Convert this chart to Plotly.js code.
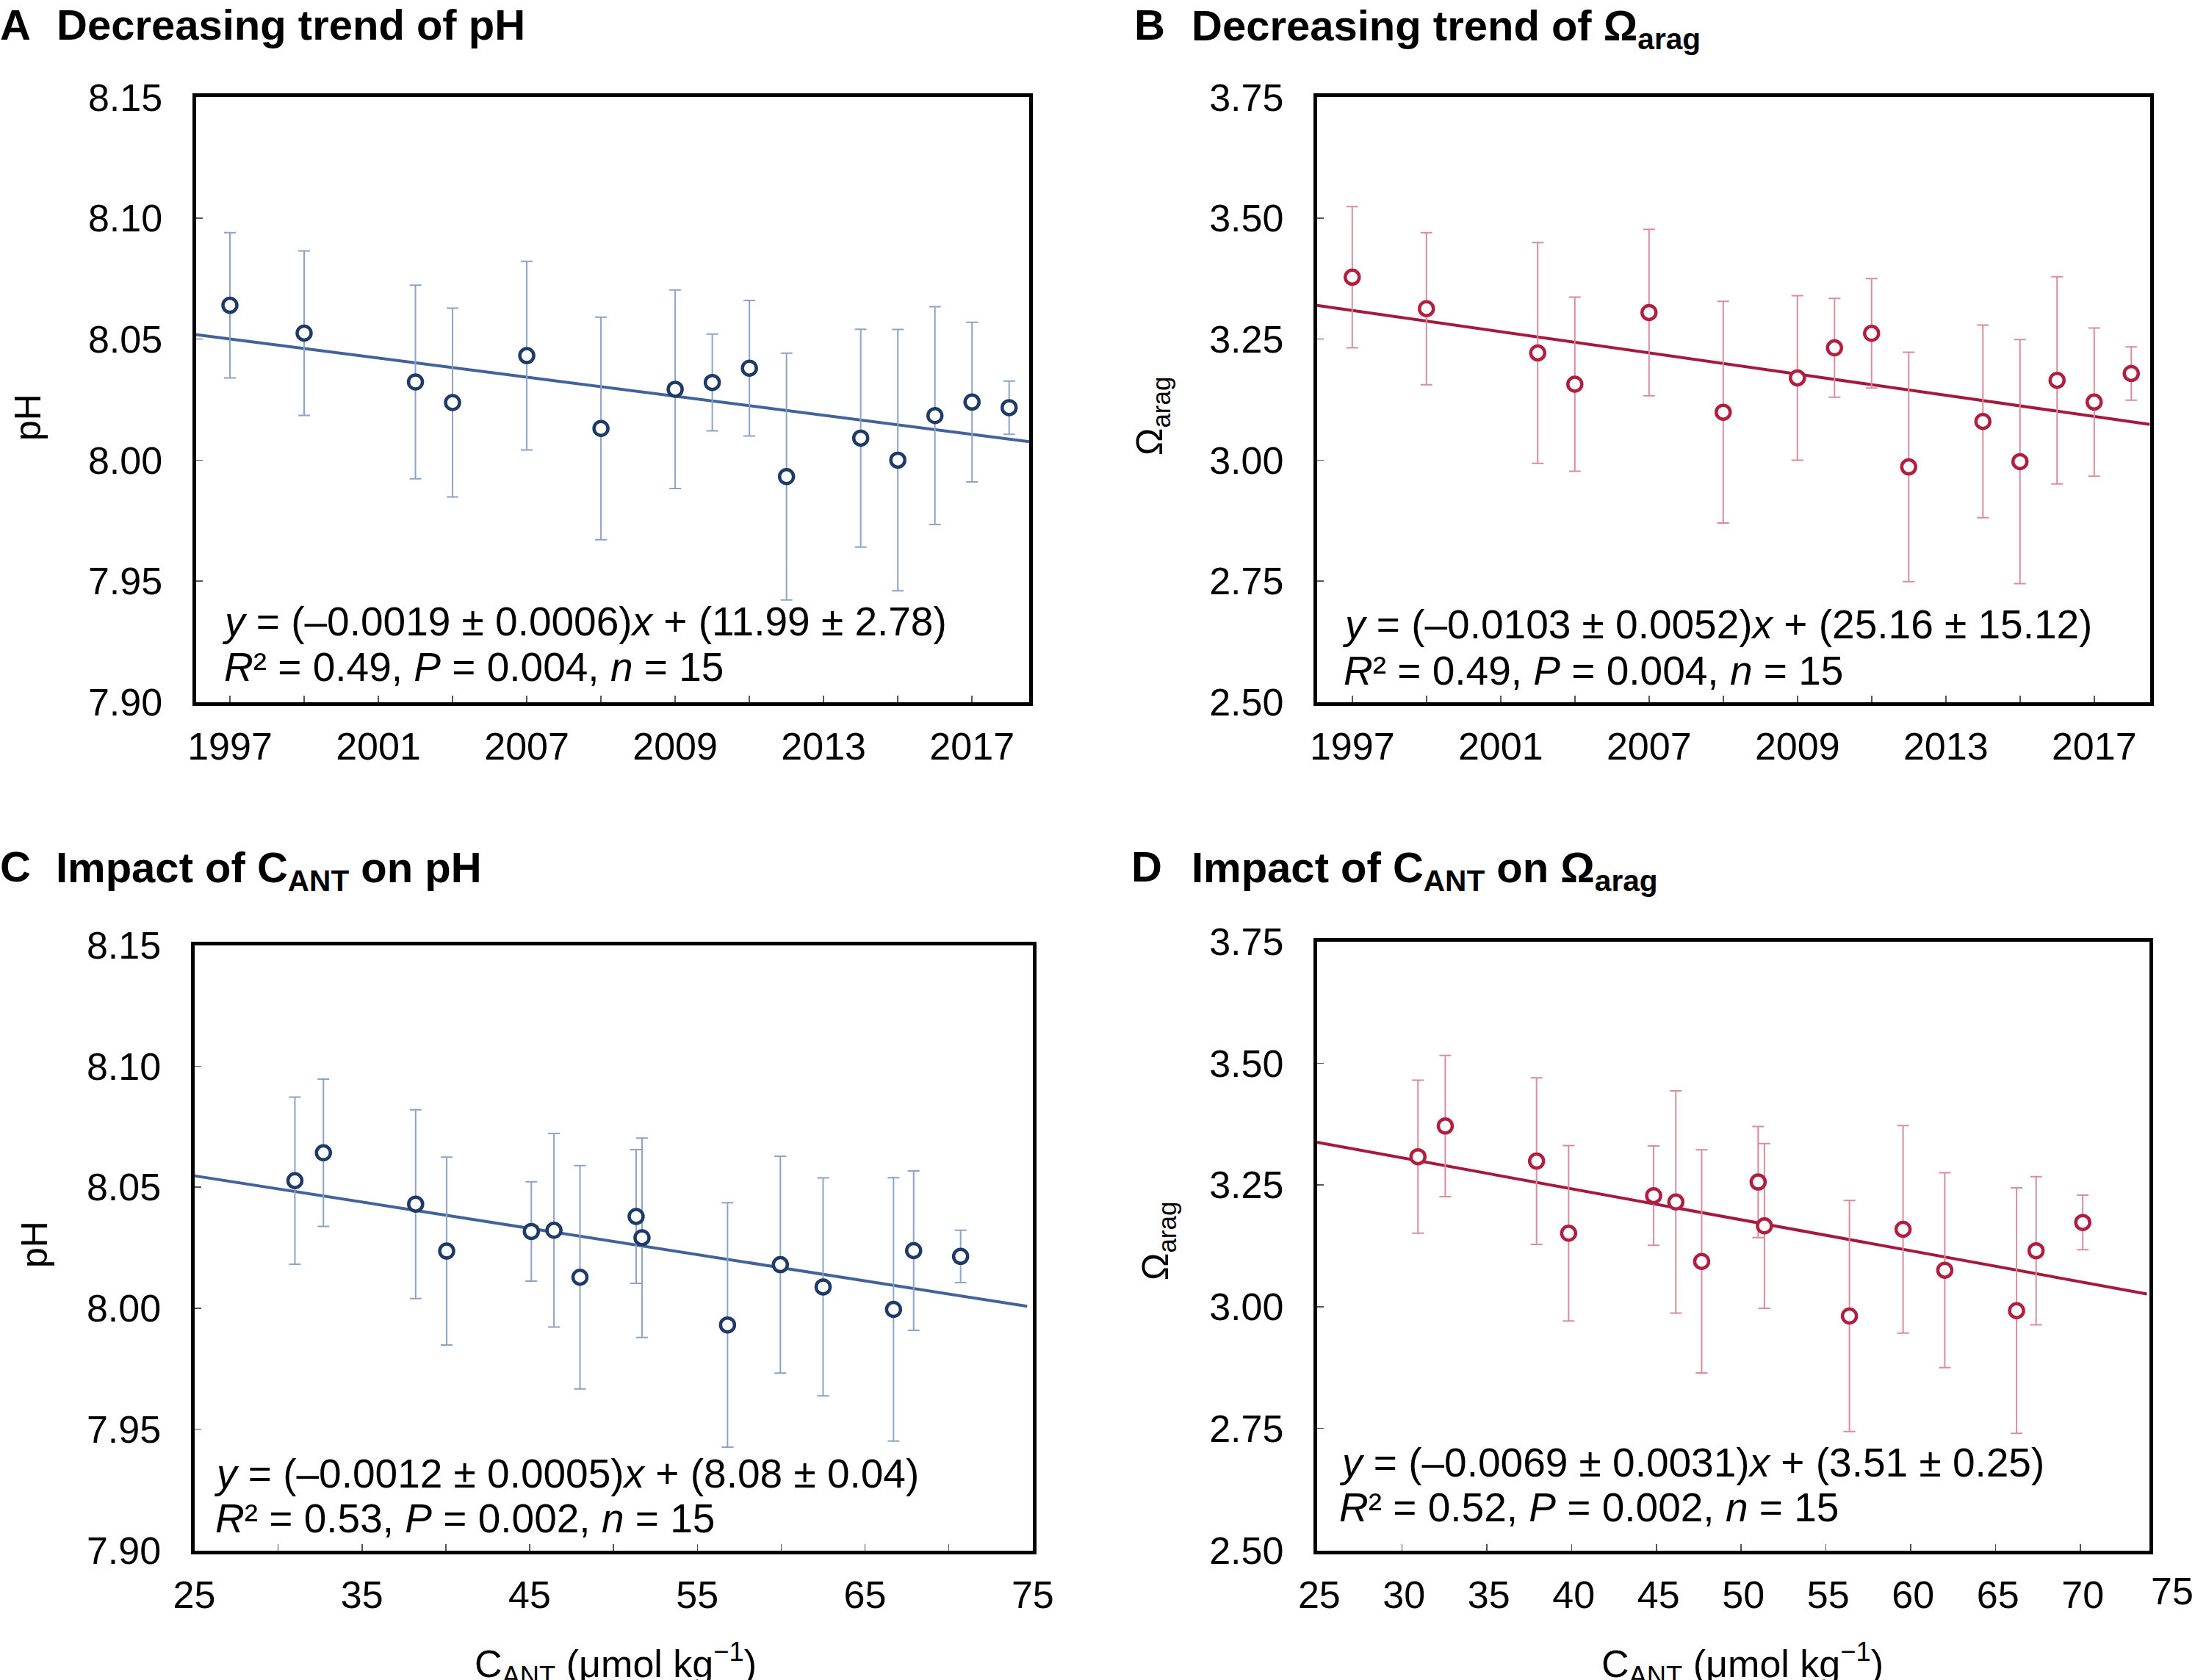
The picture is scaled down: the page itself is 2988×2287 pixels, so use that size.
<!DOCTYPE html>
<html><head><meta charset="utf-8">
<script src="https://cdn.plot.ly/plotly-3.0.1.min.js"></script>
<style>html,body{margin:0;padding:0;background:#fff}#chart{width:2988px;height:2287px}</style>
</head><body><div id="chart"></div>
<script>
// ---------------- data ----------------
const years = [1997, 1999, 2002, 2003, 2005, 2007, 2009, 2010, 2011, 2012, 2014, 2015, 2016, 2017, 2018];
const pHYear = [8.064, 8.0525, 8.0323, 8.0238, 8.0432, 8.0131, 8.0293, 8.0321, 8.0380, 7.9932, 8.0091, 8.0000, 8.0184, 8.0240, 8.0217];
const pHYearErr = [0.030, 0.034, 0.040, 0.039, 0.039, 0.046, 0.041, 0.020, 0.028, 0.051, 0.045, 0.054, 0.045, 0.033, 0.011];
const omegaYear = [3.378, 3.313, 3.2215, 3.157, 3.305, 3.099, 3.170, 3.232, 3.262, 2.986, 3.080, 2.997, 3.165, 3.120, 3.179];
const omegaYearErr = [0.146, 0.157, 0.228, 0.180, 0.172, 0.229, 0.170, 0.102, 0.113, 0.237, 0.199, 0.252, 0.214, 0.153, 0.055];

const cantC = [31.0, 32.7, 38.2, 40.05, 45.1, 46.45, 48.0, 51.35, 51.7, 56.8, 59.95, 62.5, 66.7, 67.9, 70.7];
const pHCant = [8.0527, 8.0642, 8.0430, 8.0236, 8.0317, 8.0322, 8.0128, 8.0379, 8.0291, 7.9931, 8.0180, 8.0088, 7.9995, 8.0238, 8.0214];
const pHCantErr = [0.0345, 0.0304, 0.0390, 0.0388, 0.0205, 0.0400, 0.0461, 0.0276, 0.0412, 0.0505, 0.0448, 0.0450, 0.0544, 0.0329, 0.0108];

const cantD = [30.95, 32.56, 37.94, 39.83, 44.84, 46.15, 47.67, 51.0, 51.37, 56.38, 59.54, 62.0, 66.23, 67.38, 70.13];
const omegaCant = [3.308, 3.371, 3.299, 3.151, 3.228, 3.215, 3.093, 3.256, 3.166, 2.981, 3.159, 3.075, 2.992, 3.115, 3.173];
const omegaCantErr = [0.157, 0.145, 0.171, 0.180, 0.102, 0.228, 0.229, 0.114, 0.169, 0.237, 0.213, 0.200, 0.252, 0.152, 0.056];

// regression lines (end points)
const fitAx = [1996.08, 2018.54], fitAy = [8.0519, 8.0076];
const fitBx = [1996.05, 2018.50], fitBy = [3.3196, 3.0738];
const fitCx = [25, 74.67], fitCy = [8.0547, 8.0008];
const fitDx = [25, 73.91], fitDy = [3.3377, 3.0263];

// ticks
const yearLabelVals = [1997, 2001, 2005, 2009, 2013, 2017];
const yearLabelText = ['1997', '2001', '2007', '2009', '2013', '2017'];
const yearMinorVals = [1999, 2003, 2007, 2011, 2015];
const pHTicks = [7.90, 7.95, 8.00, 8.05, 8.10, 8.15];
const omegaTicks = [2.50, 2.75, 3.00, 3.25, 3.50, 3.75];
const cantLabelC = [25, 35, 45, 55, 65, 75];
const cantMinorC = [30, 40, 50, 60, 70];
const cantLabelD = [25, 30, 35, 40, 45, 50, 55, 60, 65, 70];
const cantExtraD = '75';

const eqA = ['<i>y</i> = (–0.0019 ± 0.0006)<i>x</i> + (11.99 ± 2.78)', '<i>R</i>² = 0.49, <i>P</i> = 0.004, <i>n</i> = 15'];
const eqB = ['<i>y</i> = (–0.0103 ± 0.0052)<i>x</i> + (25.16 ± 15.12)', '<i>R</i>² = 0.49, <i>P</i> = 0.004, <i>n</i> = 15'];
const eqC = ['<i>y</i> = (–0.0012 ± 0.0005)<i>x</i> + (8.08 ± 0.04)', '<i>R</i>² = 0.53, <i>P</i> = 0.002, <i>n</i> = 15'];
const eqD = ['<i>y</i> = (–0.0069 ± 0.0031)<i>x</i> + (3.51 ± 0.25)', '<i>R</i>² = 0.52, <i>P</i> = 0.002, <i>n</i> = 15'];

// ---------------- styling ----------------
const W = 2988, H = 2287;
const FONT = 'Liberation Sans, Arial, Helvetica, sans-serif';
const BLUE_M = '#1e3a68', BLUE_L = '#41639a', BLUE_E = '#8ca3c7';
const RED_M = '#b11e3e', RED_L = '#a51a3c', RED_E = '#d98d9c';
const TICK = 52, EQ = 55, TTL = 58, YT = 50, XT = 52;

function fitTrace(x, y, color, ax) {
  return {x, y, mode: 'lines', line: {color, width: 4}, xaxis: 'x' + ax, yaxis: 'y' + ax, hoverinfo: 'skip', showlegend: false};
}
function ptTrace(x, y, err, mcol, ecol, ax) {
  return {x, y, mode: 'markers', xaxis: 'x' + ax, yaxis: 'y' + ax, showlegend: false,
    marker: {symbol: 'circle', size: 19, color: '#ffffff', line: {color: mcol, width: 4.5}},
    error_y: {type: 'data', array: err, visible: true, color: ecol, thickness: 2, width: 8}};
}
const traces = [
  fitTrace(fitAx, fitAy, BLUE_L, ''), ptTrace(years, pHYear, pHYearErr, BLUE_M, BLUE_E, ''),
  fitTrace(fitBx, fitBy, RED_L, '2'), ptTrace(years, omegaYear, omegaYearErr, RED_M, RED_E, '2'),
  fitTrace(fitCx, fitCy, BLUE_L, '3'), ptTrace(cantC, pHCant, pHCantErr, BLUE_M, BLUE_E, '3'),
  fitTrace(fitDx, fitDy, RED_L, '4'), ptTrace(cantD, omegaCant, omegaCantErr, RED_M, RED_E, '4')
];

const px = p => p / W, py = p => 1 - p / H;
const tickStyle = {ticks: 'inside', ticklen: 9, tickwidth: 1.5, tickcolor: '#555'};
function xax(d0, d1, range, tv, tt, minorVals, anchor, shift) {
  const a = Object.assign({domain: [px(d0), px(d1)], range, anchor, tickmode: 'array', tickvals: tv, ticktext: tt,
    showline: true, linewidth: 5, linecolor: '#000',
    mirror: true, showgrid: false, zeroline: false, tickfont: {family: FONT, size: TICK, color: '#000'},
    ticklabelstandoff: 11, ticklabelshift: shift || 0, fixedrange: true}, tickStyle);
  if (minorVals) a.minor = Object.assign({tickmode: 'array', tickvals: minorVals, showgrid: false}, tickStyle);
  return a;
}
function yax(d0, d1, range, tv, anchor) {
  return Object.assign({domain: [py(d1), py(d0)], range, anchor, tickmode: 'array', tickvals: tv, tickformat: '.2f',
    showline: true, linewidth: 5, linecolor: '#000',
    mirror: true, showgrid: false, zeroline: false, tickfont: {family: FONT, size: TICK, color: '#000'},
    ticklabelstandoff: 30, fixedrange: true}, tickStyle);
}

// text helpers (pixel positions -> paper)
function txtB(text, left, base, size, bold) {
  return {xref: 'paper', yref: 'paper', x: px(left - 2), y: py(base + 0.212 * size + 2), xanchor: 'left', yanchor: 'bottom',
    showarrow: false, text: bold ? '<b>' + text + '</b>' : text, font: {family: FONT, size, color: '#000'}};
}
function txtT(text, left, base, size, bold) {
  return {xref: 'paper', yref: 'paper', x: px(left - 2), y: py(base - 0.905 * size - 2), xanchor: 'left', yanchor: 'top',
    showarrow: false, text: bold ? '<b>' + text + '</b>' : text, font: {family: FONT, size, color: '#000'}};
}
function ytitle(text, cx, cy) {
  return {xref: 'paper', yref: 'paper', x: px(cx), y: py(cy), xanchor: 'center', yanchor: 'middle', textangle: -90,
    showarrow: false, text, font: {family: FONT, size: YT, color: '#000'}};
}
function xtitle(text, cx, base) {
  return {xref: 'paper', yref: 'paper', x: px(cx), y: py(base - 1.054 * XT - 2), xanchor: 'center', yanchor: 'top',
    showarrow: false, text, font: {family: FONT, size: XT, color: '#000'}};
}

const OMEGA = 'Ω<sub>arag</sub>';
const CANT = 'C<sub>ANT</sub> (μmol kg<sup>−1</sup>)';
const annotations = [
  txtB('A', 0, 54, TTL, true), txtB('Decreasing trend of pH', 77, 54, TTL, true),
  txtB('B', 1544, 54, TTL, true), txtT('Decreasing trend of ' + OMEGA, 1622, 54, TTL, true),
  txtB('C', 0, 1200, TTL, true), txtT('Impact of C<sub>ANT</sub> on pH', 76, 1200, TTL, true),
  txtB('D', 1540, 1200, TTL, true), txtT('Impact of C<sub>ANT</sub> on ' + OMEGA, 1622, 1200, TTL, true),
  txtB(eqA[0], 302, 865, EQ), txtB(eqA[1], 305, 927, EQ),
  txtB(eqB[0], 1827, 869, EQ), txtB(eqB[1], 1829, 932, EQ),
  txtB(eqC[0], 291, 2025, EQ), txtB(eqC[1], 293, 2086, EQ),
  txtB(eqD[0], 1823, 2010, EQ), txtB(eqD[1], 1823, 2071, EQ),
  ytitle('pH', 38, 568), ytitle(OMEGA, 1568, 567), ytitle('pH', 47, 1694), ytitle(OMEGA, 1576, 1690),
  xtitle(CANT, 838, 2283), xtitle(CANT, 2372, 2283),
  {xref: 'paper', yref: 'paper', x: px(2957), y: py(2184 + 0.212 * TICK + 2), xanchor: 'center', yanchor: 'bottom',
    showarrow: false, text: cantExtraD, font: {family: FONT, size: TICK, color: '#000'}}
];

const layout = {
  width: W, height: H, margin: {l: 0, r: 0, t: 0, b: 0}, paper_bgcolor: '#fff', plot_bgcolor: '#fff',
  showlegend: false, font: {family: FONT, color: '#000'},
  xaxis: xax(266.5, 1401, [1996.08, 2018.54], yearLabelVals, yearLabelText, yearMinorVals, 'y'),
  yaxis: yax(132.3, 955.8, [7.90, 8.15], pHTicks, 'x'),
  xaxis2: xax(1792.8, 2926.5, [1996.05, 2018.50], yearLabelVals, yearLabelText, yearMinorVals, 'y2'),
  yaxis2: yax(132.3, 955.8, [2.50, 3.75], omegaTicks, 'x2'),
  xaxis3: xax(264.5, 1405.8, [25, 75], cantLabelC, cantLabelC.map(String), cantMinorC, 'y3'),
  yaxis3: yax(1286.5, 2110.5, [7.90, 8.15], pHTicks, 'x3'),
  xaxis4: xax(1792.8, 2925.5, [25, 74.04], cantLabelD, cantLabelD.map(String), null, 'y4', 3),
  yaxis4: yax(1281.5, 2110.5, [2.50, 3.75], omegaTicks, 'x4'),
  annotations
};
Plotly.newPlot('chart', traces, layout, {displayModeBar: false, staticPlot: true});
</script></body></html>
